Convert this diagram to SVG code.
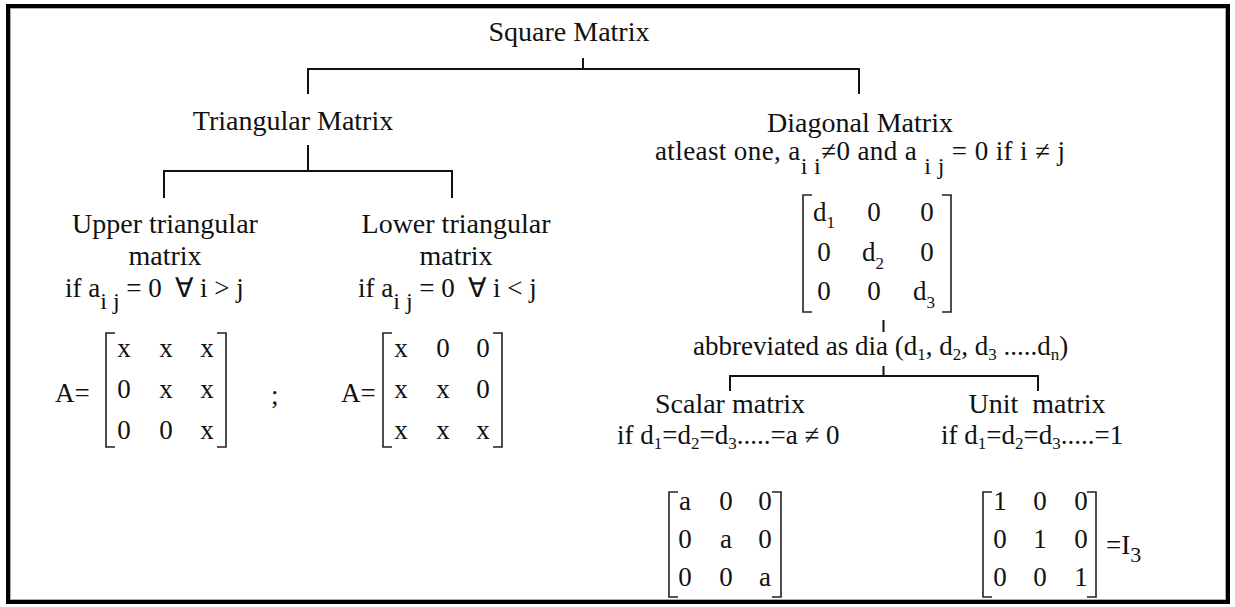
<svg xmlns="http://www.w3.org/2000/svg" width="1235" height="607" viewBox="0 0 1235 607">
<style>
text{font-family:"Liberation Serif","Times New Roman",serif;font-size:27px;fill:#111}
.h{font-size:28px}
.c{text-anchor:middle}
.sub{font-size:24px}
.s{font-size:17px}
.ln{stroke:#111;stroke-width:2;fill:none}
.br{stroke:#222;stroke-width:1.6;fill:none}
</style>
<rect x="0" y="0" width="1235" height="607" fill="#fff"/>
<rect x="8" y="6" width="1220" height="596" fill="none" stroke="#000" stroke-width="4"/>
<rect x="10.5" y="8.5" width="1215" height="591" fill="none" stroke="#aaa" stroke-width="1"/>
<g id="connectors">
<path class="ln" d="M583 58V69M308 94V69H859V94"/>
<path class="ln" d="M308 145V171M164 198V171H452V198"/>
<path class="ln" d="M883.5 320V332M883.5 366V376M730 391V376H1038V391"/>
</g>
<g id="square">
<text class="c h" x="569" y="41">Square Matrix</text>
</g>
<g id="triangular">
<text class="c h" x="293" y="130">Triangular Matrix</text>
</g>
<g id="diagonal">
<text class="c h" x="860" y="132">Diagonal Matrix</text>
<text x="655" y="160" textLength="410">atleast one, a<tspan class="sub" dy="14">i i</tspan><tspan dy="-14">≠0 and a </tspan><tspan class="sub" dy="14">i j</tspan><tspan dy="-14"> = 0 if i ≠ j</tspan></text>
<path class="br" d="M812 195H803V312H812M942 195H951V312H942"/>
<text x="813" y="221">d<tspan class="s" dy="7">1</tspan></text>
<text class="c" x="874" y="221">0</text>
<text class="c" x="927" y="221">0</text>
<text class="c" x="824" y="261">0</text>
<text x="862" y="261">d<tspan class="s" dy="8">2</tspan></text>
<text class="c" x="927" y="261">0</text>
<text class="c" x="824" y="300">0</text>
<text class="c" x="874" y="300">0</text>
<text x="913" y="300">d<tspan class="s" dy="8">3</tspan></text>
<text x="693" y="355">abbreviated as dia (d<tspan class="s" dy="5">1</tspan><tspan dy="-5">, d</tspan><tspan class="s" dy="5">2</tspan><tspan dy="-5">, d</tspan><tspan class="s" dy="5">3</tspan><tspan dy="-5"> .....d</tspan><tspan class="s" dy="5">n</tspan><tspan dy="-5">)</tspan></text>
</g>
<g id="upper">
<text class="c h" x="165" y="233">Upper triangular</text>
<text class="c h" x="165" y="265">matrix</text>
<text x="65" y="297" xml:space="preserve">if a<tspan class="sub" dy="12">i j</tspan><tspan dy="-12"> = 0  ∀ i &gt; j</tspan></text>
<text x="55" y="402">A=</text>
<path class="br" d="M115 333H106V447H115M217 333H226V447H217"/>
<text class="c" x="124" y="357">x</text><text class="c" x="166" y="357">x</text><text class="c" x="207" y="357">x</text>
<text class="c" x="124" y="398">0</text><text class="c" x="166" y="398">x</text><text class="c" x="207" y="398">x</text>
<text class="c" x="124" y="439">0</text><text class="c" x="166" y="439">0</text><text class="c" x="207" y="439">x</text>
<text x="271" y="404">;</text>
</g>
<g id="lower">
<text class="c h" x="456" y="233">Lower triangular</text>
<text class="c h" x="456" y="265">matrix</text>
<text x="358" y="297" xml:space="preserve">if a<tspan class="sub" dy="12">i j</tspan><tspan dy="-12"> = 0  ∀ i &lt; j</tspan></text>
<text x="341" y="402">A=</text>
<path class="br" d="M392 333H383V447H392M493 333H502V447H493"/>
<text class="c" x="401" y="357">x</text><text class="c" x="443" y="357">0</text><text class="c" x="483" y="357">0</text>
<text class="c" x="401" y="398">x</text><text class="c" x="443" y="398">x</text><text class="c" x="483" y="398">0</text>
<text class="c" x="401" y="439">x</text><text class="c" x="443" y="439">x</text><text class="c" x="483" y="439">x</text>
</g>
<g id="scalar">
<text class="c h" x="730" y="413">Scalar matrix</text>
<text x="617" y="444">if d<tspan class="s" dy="5">1</tspan><tspan dy="-5">=d</tspan><tspan class="s" dy="5">2</tspan><tspan dy="-5">=d</tspan><tspan class="s" dy="5">3</tspan><tspan dy="-5">.....=a ≠ 0</tspan></text>
<path class="br" d="M678 492H669V597H678M772 492H781V597H772"/>
<text class="c" x="685" y="510">a</text><text class="c" x="726" y="510">0</text><text class="c" x="765" y="510">0</text>
<text class="c" x="685" y="548">0</text><text class="c" x="726" y="548">a</text><text class="c" x="765" y="548">0</text>
<text class="c" x="685" y="586">0</text><text class="c" x="726" y="586">0</text><text class="c" x="765" y="586">a</text>
</g>
<g id="unit">
<text class="c h" x="1037" y="413" xml:space="preserve">Unit  matrix</text>
<text x="941" y="444">if d<tspan class="s" dy="5">1</tspan><tspan dy="-5">=d</tspan><tspan class="s" dy="5">2</tspan><tspan dy="-5">=d</tspan><tspan class="s" dy="5">3</tspan><tspan dy="-5">.....=1</tspan></text>
<path class="br" d="M992 492H983V597H992M1087 492H1096V597H1087"/>
<text class="c" x="1000" y="510">1</text><text class="c" x="1040" y="510">0</text><text class="c" x="1081" y="510">0</text>
<text class="c" x="1000" y="548">0</text><text class="c" x="1040" y="548">1</text><text class="c" x="1081" y="548">0</text>
<text class="c" x="1000" y="586">0</text><text class="c" x="1040" y="586">0</text><text class="c" x="1081" y="586">1</text>
<text x="1106" y="554">=I<tspan font-size="22" dy="8">3</tspan></text>
</g>
</svg>
